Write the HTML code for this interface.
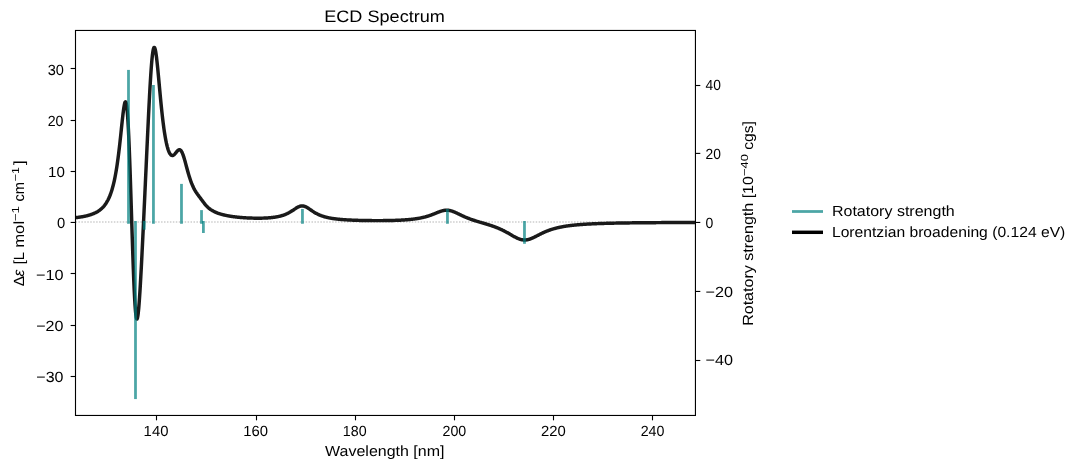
<!DOCTYPE html>
<html><head><meta charset="utf-8"><style>
html,body{margin:0;padding:0;background:#fff;width:1081px;height:468px;overflow:hidden}
svg{position:absolute;left:0;top:0;font-family:"Liberation Sans", sans-serif;will-change:transform}
text{fill:#000;text-rendering:geometricPrecision}
</style></head><body>
<svg width="1081" height="468" viewBox="0 0 1081 468">
<line x1="75.5" y1="222.0" x2="695.44" y2="222.0" stroke="#b4b4b4" stroke-width="1.11" stroke-dasharray="1.5 1.45"/>
<clipPath id="ax"><rect x="75.5" y="30.46" width="619.94" height="385.0"/></clipPath>
<polyline clip-path="url(#ax)" points="75.44,217.68 75.85,217.64 76.27,217.59 76.68,217.54 77.09,217.49 77.51,217.43 77.92,217.38 78.34,217.33 78.75,217.27 79.16,217.21 79.58,217.15 79.99,217.09 80.40,217.03 80.82,216.96 81.23,216.89 81.64,216.83 82.06,216.75 82.47,216.68 82.88,216.61 83.30,216.53 83.71,216.45 84.13,216.37 84.54,216.28 84.95,216.20 85.37,216.11 85.78,216.02 86.19,215.92 86.61,215.82 87.02,215.72 87.43,215.62 87.85,215.51 88.26,215.40 88.68,215.28 89.09,215.17 89.50,215.04 89.92,214.92 90.33,214.79 90.74,214.65 91.16,214.51 91.57,214.37 91.98,214.22 92.40,214.06 92.81,213.90 93.23,213.74 93.64,213.57 94.05,213.39 94.47,213.20 94.88,213.01 95.29,212.81 95.71,212.61 96.12,212.39 96.53,212.17 96.95,211.94 97.36,211.70 97.77,211.45 98.19,211.18 98.60,210.91 99.02,210.63 99.43,210.33 99.84,210.03 100.26,209.71 100.67,209.37 101.08,209.02 101.50,208.65 101.91,208.27 102.32,207.87 102.74,207.45 103.15,207.02 103.57,206.56 103.98,206.08 104.39,205.57 104.81,205.04 105.22,204.48 105.63,203.90 106.05,203.29 106.46,202.64 106.87,201.96 107.29,201.24 107.70,200.49 108.12,199.69 108.53,198.86 108.94,197.97 109.36,197.04 109.77,196.05 110.18,195.01 110.60,193.90 111.01,192.74 111.42,191.50 111.84,190.19 112.25,188.81 112.66,187.34 113.08,185.79 113.49,184.14 113.91,182.39 114.32,180.54 114.73,178.58 115.15,176.50 115.56,174.30 115.97,171.97 116.39,169.51 116.80,166.91 117.21,164.16 117.63,161.27 118.04,158.23 118.46,155.04 118.87,151.71 119.28,148.23 119.70,144.62 120.11,140.90 120.52,137.07 120.94,133.17 121.35,129.24 121.76,125.30 122.18,121.41 122.59,117.64 123.01,114.05 123.42,110.74 123.83,107.78 124.25,105.29 124.66,103.38 125.07,102.15 125.49,101.74 125.90,102.24 126.31,103.76 126.73,106.39 127.14,110.19 127.55,115.22 127.97,121.47 128.38,128.95 128.80,137.58 129.21,147.30 129.62,157.99 130.04,169.50 130.45,181.69 130.86,194.36 131.28,207.33 131.69,220.38 132.10,233.32 132.52,245.93 132.93,258.02 133.35,269.40 133.76,279.88 134.17,289.32 134.59,297.59 135.00,304.58 135.41,310.22 135.83,314.48 136.24,317.34 136.65,318.83 137.07,319.00 137.48,317.92 137.89,315.70 138.31,312.42 138.72,308.21 139.14,303.17 139.55,297.43 139.96,291.07 140.38,284.21 140.79,276.93 141.20,269.30 141.62,261.39 142.03,253.26 142.44,244.93 142.86,236.46 143.27,227.87 143.69,219.18 144.10,210.41 144.51,201.57 144.93,192.67 145.34,183.74 145.75,174.77 146.17,165.80 146.58,156.83 146.99,147.90 147.41,139.02 147.82,130.25 148.24,121.61 148.65,113.15 149.06,104.93 149.48,97.01 149.89,89.46 150.30,82.33 150.72,75.70 151.13,69.63 151.54,64.20 151.96,59.46 152.37,55.46 152.78,52.24 153.20,49.82 153.61,48.22 154.03,47.42 154.44,47.40 154.85,48.13 155.27,49.55 155.68,51.60 156.09,54.21 156.51,57.32 156.92,60.83 157.33,64.68 157.75,68.79 158.16,73.09 158.58,77.51 158.99,82.01 159.40,86.52 159.82,91.01 160.23,95.43 160.64,99.76 161.06,103.96 161.47,108.03 161.88,111.94 162.30,115.68 162.71,119.25 163.13,122.63 163.54,125.84 163.95,128.86 164.37,131.69 164.78,134.34 165.19,136.82 165.61,139.12 166.02,141.24 166.43,143.20 166.85,145.00 167.26,146.63 167.67,148.12 168.09,149.45 168.50,150.64 168.92,151.68 169.33,152.59 169.74,153.37 170.16,154.02 170.57,154.54 170.98,154.95 171.40,155.24 171.81,155.42 172.22,155.50 172.64,155.48 173.05,155.36 173.47,155.16 173.88,154.88 174.29,154.54 174.71,154.13 175.12,153.68 175.53,153.19 175.95,152.69 176.36,152.17 176.77,151.67 177.19,151.19 177.60,150.75 178.02,150.37 178.43,150.06 178.84,149.84 179.26,149.73 179.67,149.74 180.08,149.87 180.50,150.14 180.91,150.55 181.32,151.10 181.74,151.79 182.15,152.62 182.56,153.57 182.98,154.65 183.39,155.83 183.81,157.10 184.22,158.46 184.63,159.88 185.05,161.35 185.46,162.86 185.87,164.39 186.29,165.93 186.70,167.47 187.11,169.00 187.53,170.51 187.94,171.99 188.36,173.45 188.77,174.86 189.18,176.23 189.60,177.55 190.01,178.83 190.42,180.05 190.84,181.23 191.25,182.35 191.66,183.43 192.08,184.45 192.49,185.43 192.90,186.36 193.32,187.24 193.73,188.08 194.15,188.88 194.56,189.65 194.97,190.38 195.39,191.07 195.80,191.74 196.21,192.38 196.63,193.00 197.04,193.60 197.45,194.19 197.87,194.76 198.28,195.32 198.70,195.88 199.11,196.43 199.52,196.98 199.94,197.53 200.35,198.08 200.76,198.63 201.18,199.18 201.59,199.74 202.00,200.30 202.42,200.85 202.83,201.41 203.25,201.95 203.66,202.50 204.07,203.03 204.49,203.56 204.90,204.07 205.31,204.57 205.73,205.05 206.14,205.52 206.55,205.97 206.97,206.40 207.38,206.82 207.79,207.22 208.21,207.60 208.62,207.97 209.04,208.32 209.45,208.65 209.86,208.97 210.28,209.27 210.69,209.57 211.10,209.85 211.52,210.11 211.93,210.37 212.34,210.62 212.76,210.85 213.17,211.08 213.59,211.30 214.00,211.51 214.41,211.71 214.83,211.91 215.24,212.10 215.65,212.28 216.07,212.46 216.48,212.63 216.89,212.79 217.31,212.95 217.72,213.11 218.14,213.26 218.55,213.40 218.96,213.54 219.38,213.68 219.79,213.81 220.20,213.94 220.62,214.07 221.03,214.19 221.44,214.31 221.86,214.42 222.27,214.54 222.68,214.64 223.10,214.75 223.51,214.85 223.93,214.95 224.34,215.05 224.75,215.15 225.17,215.24 225.58,215.33 225.99,215.42 226.41,215.51 226.82,215.59 227.23,215.67 227.65,215.75 228.06,215.83 228.48,215.90 228.89,215.98 229.30,216.05 229.72,216.12 230.13,216.19 230.54,216.26 230.96,216.32 231.37,216.38 231.78,216.45 232.20,216.51 232.61,216.57 233.03,216.62 233.44,216.68 233.85,216.73 234.27,216.79 234.68,216.84 235.09,216.89 235.51,216.94 235.92,216.99 236.33,217.04 236.75,217.08 237.16,217.13 237.57,217.17 237.99,217.21 238.40,217.26 238.82,217.30 239.23,217.33 239.64,217.37 240.06,217.41 240.47,217.45 240.88,217.48 241.30,217.52 241.71,217.55 242.12,217.58 242.54,217.61 242.95,217.64 243.37,217.67 243.78,217.70 244.19,217.73 244.61,217.76 245.02,217.78 245.43,217.81 245.85,217.83 246.26,217.86 246.67,217.88 247.09,217.90 247.50,217.92 247.91,217.94 248.33,217.96 248.74,217.98 249.16,218.00 249.57,218.02 249.98,218.03 250.40,218.05 250.81,218.07 251.22,218.08 251.64,218.09 252.05,218.10 252.46,218.12 252.88,218.13 253.29,218.14 253.71,218.15 254.12,218.15 254.53,218.16 254.95,218.17 255.36,218.17 255.77,218.18 256.19,218.18 256.60,218.19 257.01,218.19 257.43,218.19 257.84,218.19 258.26,218.19 258.67,218.19 259.08,218.19 259.50,218.18 259.91,218.18 260.32,218.18 260.74,218.17 261.15,218.16 261.56,218.15 261.98,218.15 262.39,218.14 262.80,218.12 263.22,218.11 263.63,218.10 264.05,218.08 264.46,218.07 264.87,218.05 265.29,218.03 265.70,218.01 266.11,217.99 266.53,217.97 266.94,217.95 267.35,217.92 267.77,217.90 268.18,217.87 268.60,217.84 269.01,217.81 269.42,217.77 269.84,217.74 270.25,217.70 270.66,217.67 271.08,217.63 271.49,217.58 271.90,217.54 272.32,217.49 272.73,217.45 273.15,217.39 273.56,217.34 273.97,217.29 274.39,217.23 274.80,217.17 275.21,217.11 275.63,217.04 276.04,216.97 276.45,216.90 276.87,216.83 277.28,216.75 277.69,216.67 278.11,216.59 278.52,216.50 278.94,216.41 279.35,216.32 279.76,216.22 280.18,216.11 280.59,216.01 281.00,215.90 281.42,215.78 281.83,215.66 282.24,215.54 282.66,215.41 283.07,215.27 283.49,215.13 283.90,214.99 284.31,214.83 284.73,214.68 285.14,214.52 285.55,214.35 285.97,214.17 286.38,213.99 286.79,213.80 287.21,213.61 287.62,213.41 288.04,213.20 288.45,212.99 288.86,212.77 289.28,212.55 289.69,212.31 290.10,212.08 290.52,211.83 290.93,211.58 291.34,211.32 291.76,211.06 292.17,210.80 292.58,210.53 293.00,210.26 293.41,209.98 293.83,209.71 294.24,209.43 294.65,209.15 295.07,208.88 295.48,208.60 295.89,208.34 296.31,208.07 296.72,207.82 297.13,207.57 297.55,207.34 297.96,207.12 298.38,206.91 298.79,206.72 299.20,206.54 299.62,206.39 300.03,206.25 300.44,206.14 300.86,206.05 301.27,205.99 301.68,205.94 302.10,205.93 302.51,205.94 302.92,205.97 303.34,206.03 303.75,206.11 304.17,206.22 304.58,206.35 304.99,206.50 305.41,206.67 305.82,206.86 306.23,207.06 306.65,207.28 307.06,207.52 307.47,207.76 307.89,208.02 308.30,208.29 308.72,208.56 309.13,208.84 309.54,209.12 309.96,209.40 310.37,209.69 310.78,209.97 311.20,210.26 311.61,210.54 312.02,210.82 312.44,211.10 312.85,211.37 313.27,211.64 313.68,211.90 314.09,212.16 314.51,212.41 314.92,212.66 315.33,212.90 315.75,213.14 316.16,213.37 316.57,213.59 316.99,213.81 317.40,214.02 317.81,214.22 318.23,214.42 318.64,214.61 319.06,214.80 319.47,214.98 319.88,215.15 320.30,215.32 320.71,215.48 321.12,215.64 321.54,215.79 321.95,215.94 322.36,216.08 322.78,216.22 323.19,216.36 323.61,216.48 324.02,216.61 324.43,216.73 324.85,216.85 325.26,216.96 325.67,217.07 326.09,217.18 326.50,217.28 326.91,217.38 327.33,217.48 327.74,217.57 328.16,217.66 328.57,217.75 328.98,217.83 329.40,217.91 329.81,217.99 330.22,218.07 330.64,218.14 331.05,218.22 331.46,218.29 331.88,218.35 332.29,218.42 332.70,218.48 333.12,218.55 333.53,218.61 333.95,218.67 334.36,218.72 334.77,218.78 335.19,218.83 335.60,218.88 336.01,218.93 336.43,218.98 336.84,219.03 337.25,219.08 337.67,219.12 338.08,219.17 338.50,219.21 338.91,219.25 339.32,219.29 339.74,219.33 340.15,219.37 340.56,219.41 340.98,219.44 341.39,219.48 341.80,219.51 342.22,219.54 342.63,219.58 343.05,219.61 343.46,219.64 343.87,219.67 344.29,219.70 344.70,219.73 345.11,219.76 345.53,219.78 345.94,219.81 346.35,219.84 346.77,219.86 347.18,219.89 347.59,219.91 348.01,219.93 348.42,219.96 348.84,219.98 349.25,220.00 349.66,220.02 350.08,220.04 350.49,220.06 350.90,220.08 351.32,220.10 351.73,220.12 352.14,220.14 352.56,220.15 352.97,220.17 353.39,220.19 353.80,220.21 354.21,220.22 354.63,220.24 355.04,220.25 355.45,220.27 355.87,220.28 356.28,220.30 356.69,220.31 357.11,220.32 357.52,220.34 357.93,220.35 358.35,220.36 358.76,220.37 359.18,220.38 359.59,220.40 360.00,220.41 360.42,220.42 360.83,220.43 361.24,220.44 361.66,220.45 362.07,220.46 362.48,220.47 362.90,220.48 363.31,220.48 363.73,220.49 364.14,220.50 364.55,220.51 364.97,220.52 365.38,220.52 365.79,220.53 366.21,220.54 366.62,220.54 367.03,220.55 367.45,220.56 367.86,220.56 368.28,220.57 368.69,220.57 369.10,220.58 369.52,220.58 369.93,220.59 370.34,220.59 370.76,220.60 371.17,220.60 371.58,220.60 372.00,220.61 372.41,220.61 372.82,220.61 373.24,220.61 373.65,220.62 374.07,220.62 374.48,220.62 374.89,220.62 375.31,220.62 375.72,220.63 376.13,220.63 376.55,220.63 376.96,220.63 377.37,220.63 377.79,220.63 378.20,220.63 378.62,220.63 379.03,220.63 379.44,220.63 379.86,220.62 380.27,220.62 380.68,220.62 381.10,220.62 381.51,220.62 381.92,220.61 382.34,220.61 382.75,220.61 383.17,220.60 383.58,220.60 383.99,220.60 384.41,220.59 384.82,220.59 385.23,220.58 385.65,220.58 386.06,220.57 386.47,220.57 386.89,220.56 387.30,220.56 387.71,220.55 388.13,220.54 388.54,220.53 388.96,220.53 389.37,220.52 389.78,220.51 390.20,220.50 390.61,220.49 391.02,220.48 391.44,220.47 391.85,220.46 392.26,220.45 392.68,220.44 393.09,220.43 393.51,220.42 393.92,220.41 394.33,220.39 394.75,220.38 395.16,220.37 395.57,220.35 395.99,220.34 396.40,220.32 396.81,220.31 397.23,220.29 397.64,220.28 398.06,220.26 398.47,220.24 398.88,220.22 399.30,220.20 399.71,220.19 400.12,220.17 400.54,220.15 400.95,220.12 401.36,220.10 401.78,220.08 402.19,220.06 402.60,220.03 403.02,220.01 403.43,219.98 403.85,219.96 404.26,219.93 404.67,219.90 405.09,219.88 405.50,219.85 405.91,219.82 406.33,219.79 406.74,219.75 407.15,219.72 407.57,219.69 407.98,219.65 408.40,219.62 408.81,219.58 409.22,219.54 409.64,219.51 410.05,219.47 410.46,219.42 410.88,219.38 411.29,219.34 411.70,219.29 412.12,219.25 412.53,219.20 412.95,219.15 413.36,219.10 413.77,219.05 414.19,219.00 414.60,218.94 415.01,218.89 415.43,218.83 415.84,218.77 416.25,218.71 416.67,218.65 417.08,218.58 417.49,218.52 417.91,218.45 418.32,218.38 418.74,218.31 419.15,218.23 419.56,218.16 419.98,218.08 420.39,218.00 420.80,217.92 421.22,217.83 421.63,217.74 422.04,217.66 422.46,217.56 422.87,217.47 423.29,217.37 423.70,217.27 424.11,217.17 424.53,217.06 424.94,216.96 425.35,216.85 425.77,216.73 426.18,216.62 426.59,216.50 427.01,216.38 427.42,216.25 427.83,216.13 428.25,216.00 428.66,215.86 429.08,215.73 429.49,215.59 429.90,215.45 430.32,215.30 430.73,215.16 431.14,215.01 431.56,214.85 431.97,214.70 432.38,214.54 432.80,214.38 433.21,214.22 433.63,214.06 434.04,213.90 434.45,213.73 434.87,213.56 435.28,213.40 435.69,213.23 436.11,213.06 436.52,212.89 436.93,212.73 437.35,212.56 437.76,212.40 438.18,212.23 438.59,212.07 439.00,211.92 439.42,211.76 439.83,211.61 440.24,211.47 440.66,211.33 441.07,211.19 441.48,211.07 441.90,210.95 442.31,210.83 442.72,210.73 443.14,210.63 443.55,210.54 443.97,210.46 444.38,210.39 444.79,210.33 445.21,210.29 445.62,210.25 446.03,210.23 446.45,210.21 446.86,210.21 447.27,210.22 447.69,210.24 448.10,210.27 448.52,210.32 448.93,210.38 449.34,210.44 449.76,210.52 450.17,210.61 450.58,210.71 451.00,210.82 451.41,210.94 451.82,211.07 452.24,211.20 452.65,211.35 453.07,211.50 453.48,211.66 453.89,211.82 454.31,211.99 454.72,212.17 455.13,212.35 455.55,212.53 455.96,212.72 456.37,212.91 456.79,213.11 457.20,213.30 457.61,213.50 458.03,213.70 458.44,213.90 458.86,214.10 459.27,214.30 459.68,214.50 460.10,214.69 460.51,214.89 460.92,215.09 461.34,215.29 461.75,215.48 462.16,215.68 462.58,215.87 462.99,216.06 463.41,216.25 463.82,216.43 464.23,216.62 464.65,216.80 465.06,216.98 465.47,217.16 465.89,217.33 466.30,217.50 466.71,217.67 467.13,217.84 467.54,218.01 467.96,218.17 468.37,218.33 468.78,218.49 469.20,218.65 469.61,218.80 470.02,218.96 470.44,219.11 470.85,219.26 471.26,219.41 471.68,219.55 472.09,219.69 472.50,219.84 472.92,219.98 473.33,220.11 473.75,220.25 474.16,220.39 474.57,220.52 474.99,220.65 475.40,220.79 475.81,220.92 476.23,221.05 476.64,221.18 477.05,221.30 477.47,221.43 477.88,221.56 478.30,221.68 478.71,221.81 479.12,221.93 479.54,222.05 479.95,222.18 480.36,222.30 480.78,222.42 481.19,222.54 481.60,222.66 482.02,222.79 482.43,222.91 482.84,223.03 483.26,223.15 483.67,223.27 484.09,223.40 484.50,223.52 484.91,223.64 485.33,223.77 485.74,223.89 486.15,224.01 486.57,224.14 486.98,224.27 487.39,224.39 487.81,224.52 488.22,224.65 488.64,224.78 489.05,224.91 489.46,225.04 489.88,225.17 490.29,225.31 490.70,225.44 491.12,225.58 491.53,225.72 491.94,225.86 492.36,226.00 492.77,226.14 493.19,226.29 493.60,226.44 494.01,226.58 494.43,226.74 494.84,226.89 495.25,227.04 495.67,227.20 496.08,227.36 496.49,227.52 496.91,227.68 497.32,227.85 497.73,228.02 498.15,228.19 498.56,228.36 498.98,228.54 499.39,228.72 499.80,228.90 500.22,229.08 500.63,229.27 501.04,229.46 501.46,229.65 501.87,229.85 502.28,230.05 502.70,230.25 503.11,230.45 503.53,230.66 503.94,230.86 504.35,231.08 504.77,231.29 505.18,231.51 505.59,231.73 506.01,231.95 506.42,232.17 506.83,232.40 507.25,232.63 507.66,232.86 508.08,233.09 508.49,233.33 508.90,233.56 509.32,233.80 509.73,234.04 510.14,234.28 510.56,234.51 510.97,234.75 511.38,234.99 511.80,235.23 512.21,235.47 512.62,235.71 513.04,235.94 513.45,236.18 513.87,236.41 514.28,236.64 514.69,236.86 515.11,237.08 515.52,237.30 515.93,237.51 516.35,237.72 516.76,237.92 517.17,238.12 517.59,238.30 518.00,238.48 518.42,238.66 518.83,238.82 519.24,238.97 519.66,239.12 520.07,239.26 520.48,239.38 520.90,239.50 521.31,239.60 521.72,239.69 522.14,239.77 522.55,239.84 522.97,239.90 523.38,239.94 523.79,239.97 524.21,239.99 524.62,240.00 525.03,239.99 525.45,239.97 525.86,239.94 526.27,239.90 526.69,239.84 527.10,239.77 527.51,239.70 527.93,239.61 528.34,239.51 528.76,239.40 529.17,239.28 529.58,239.15 530.00,239.01 530.41,238.86 530.82,238.71 531.24,238.55 531.65,238.38 532.06,238.20 532.48,238.02 532.89,237.83 533.31,237.64 533.72,237.45 534.13,237.25 534.55,237.04 534.96,236.84 535.37,236.63 535.79,236.42 536.20,236.21 536.61,236.00 537.03,235.79 537.44,235.57 537.85,235.36 538.27,235.14 538.68,234.93 539.10,234.72 539.51,234.51 539.92,234.30 540.34,234.09 540.75,233.89 541.16,233.68 541.58,233.48 541.99,233.28 542.40,233.08 542.82,232.88 543.23,232.69 543.65,232.50 544.06,232.31 544.47,232.13 544.89,231.95 545.30,231.77 545.71,231.59 546.13,231.42 546.54,231.25 546.95,231.08 547.37,230.92 547.78,230.76 548.20,230.60 548.61,230.44 549.02,230.29 549.44,230.14 549.85,230.00 550.26,229.85 550.68,229.71 551.09,229.57 551.50,229.44 551.92,229.31 552.33,229.18 552.74,229.05 553.16,228.93 553.57,228.81 553.99,228.69 554.40,228.57 554.81,228.46 555.23,228.34 555.64,228.24 556.05,228.13 556.47,228.02 556.88,227.92 557.29,227.82 557.71,227.72 558.12,227.63 558.54,227.53 558.95,227.44 559.36,227.35 559.78,227.26 560.19,227.18 560.60,227.09 561.02,227.01 561.43,226.93 561.84,226.85 562.26,226.77 562.67,226.70 563.09,226.62 563.50,226.55 563.91,226.48 564.33,226.41 564.74,226.34 565.15,226.28 565.57,226.21 565.98,226.15 566.39,226.08 566.81,226.02 567.22,225.96 567.63,225.90 568.05,225.85 568.46,225.79 568.88,225.73 569.29,225.68 569.70,225.63 570.12,225.57 570.53,225.52 570.94,225.47 571.36,225.42 571.77,225.38 572.18,225.33 572.60,225.28 573.01,225.24 573.43,225.19 573.84,225.15 574.25,225.11 574.67,225.07 575.08,225.03 575.49,224.98 575.91,224.95 576.32,224.91 576.73,224.87 577.15,224.83 577.56,224.80 577.98,224.76 578.39,224.72 578.80,224.69 579.22,224.66 579.63,224.62 580.04,224.59 580.46,224.56 580.87,224.53 581.28,224.50 581.70,224.47 582.11,224.44 582.52,224.41 582.94,224.38 583.35,224.35 583.77,224.32 584.18,224.29 584.59,224.27 585.01,224.24 585.42,224.22 585.83,224.19 586.25,224.17 586.66,224.14 587.07,224.12 587.49,224.09 587.90,224.07 588.32,224.05 588.73,224.02 589.14,224.00 589.56,223.98 589.97,223.96 590.38,223.94 590.80,223.92 591.21,223.90 591.62,223.88 592.04,223.86 592.45,223.84 592.86,223.82 593.28,223.80 593.69,223.78 594.11,223.76 594.52,223.75 594.93,223.73 595.35,223.71 595.76,223.69 596.17,223.68 596.59,223.66 597.00,223.64 597.41,223.63 597.83,223.61 598.24,223.60 598.66,223.58 599.07,223.57 599.48,223.55 599.90,223.54 600.31,223.52 600.72,223.51 601.14,223.50 601.55,223.48 601.96,223.47 602.38,223.46 602.79,223.44 603.21,223.43 603.62,223.42 604.03,223.40 604.45,223.39 604.86,223.38 605.27,223.37 605.69,223.36 606.10,223.34 606.51,223.33 606.93,223.32 607.34,223.31 607.75,223.30 608.17,223.29 608.58,223.28 609.00,223.27 609.41,223.26 609.82,223.25 610.24,223.24 610.65,223.23 611.06,223.22 611.48,223.21 611.89,223.20 612.30,223.19 612.72,223.18 613.13,223.17 613.55,223.16 613.96,223.15 614.37,223.14 614.79,223.13 615.20,223.13 615.61,223.12 616.03,223.11 616.44,223.10 616.85,223.09 617.27,223.08 617.68,223.08 618.10,223.07 618.51,223.06 618.92,223.05 619.34,223.05 619.75,223.04 620.16,223.03 620.58,223.02 620.99,223.02 621.40,223.01 621.82,223.00 622.23,223.00 622.64,222.99 623.06,222.98 623.47,222.98 623.89,222.97 624.30,222.96 624.71,222.96 625.13,222.95 625.54,222.94 625.95,222.94 626.37,222.93 626.78,222.93 627.19,222.92 627.61,222.91 628.02,222.91 628.44,222.90 628.85,222.90 629.26,222.89 629.68,222.89 630.09,222.88 630.50,222.88 630.92,222.87 631.33,222.86 631.74,222.86 632.16,222.85 632.57,222.85 632.99,222.84 633.40,222.84 633.81,222.83 634.23,222.83 634.64,222.82 635.05,222.82 635.47,222.82 635.88,222.81 636.29,222.81 636.71,222.80 637.12,222.80 637.53,222.79 637.95,222.79 638.36,222.78 638.78,222.78 639.19,222.78 639.60,222.77 640.02,222.77 640.43,222.76 640.84,222.76 641.26,222.76 641.67,222.75 642.08,222.75 642.50,222.74 642.91,222.74 643.33,222.74 643.74,222.73 644.15,222.73 644.57,222.73 644.98,222.72 645.39,222.72 645.81,222.71 646.22,222.71 646.63,222.71 647.05,222.70 647.46,222.70 647.87,222.70 648.29,222.69 648.70,222.69 649.12,222.69 649.53,222.68 649.94,222.68 650.36,222.68 650.77,222.68 651.18,222.67 651.60,222.67 652.01,222.67 652.42,222.66 652.84,222.66 653.25,222.66 653.67,222.65 654.08,222.65 654.49,222.65 654.91,222.65 655.32,222.64 655.73,222.64 656.15,222.64 656.56,222.63 656.97,222.63 657.39,222.63 657.80,222.63 658.22,222.62 658.63,222.62 659.04,222.62 659.46,222.62 659.87,222.61 660.28,222.61 660.70,222.61 661.11,222.61 661.52,222.60 661.94,222.60 662.35,222.60 662.76,222.60 663.18,222.60 663.59,222.59 664.01,222.59 664.42,222.59 664.83,222.59 665.25,222.58 665.66,222.58 666.07,222.58 666.49,222.58 666.90,222.58 667.31,222.57 667.73,222.57 668.14,222.57 668.56,222.57 668.97,222.57 669.38,222.56 669.80,222.56 670.21,222.56 670.62,222.56 671.04,222.56 671.45,222.55 671.86,222.55 672.28,222.55 672.69,222.55 673.11,222.55 673.52,222.54 673.93,222.54 674.35,222.54 674.76,222.54 675.17,222.54 675.59,222.54 676.00,222.53 676.41,222.53 676.83,222.53 677.24,222.53 677.65,222.53 678.07,222.53 678.48,222.52 678.90,222.52 679.31,222.52 679.72,222.52 680.14,222.52 680.55,222.52 680.96,222.51 681.38,222.51 681.79,222.51 682.20,222.51 682.62,222.51 683.03,222.51 683.45,222.51 683.86,222.50 684.27,222.50 684.69,222.50 685.10,222.50 685.51,222.50 685.93,222.50 686.34,222.50 686.75,222.49 687.17,222.49 687.58,222.49 688.00,222.49 688.41,222.49 688.82,222.49 689.24,222.49 689.65,222.49 690.06,222.48 690.48,222.48 690.89,222.48 691.30,222.48 691.72,222.48 692.13,222.48 692.54,222.48 692.96,222.48 693.37,222.47 693.79,222.47 694.20,222.47 694.61,222.47 695.03,222.47 695.44,222.47" fill="none" stroke="#1a1a1a" stroke-width="3.47" stroke-linejoin="round" stroke-linecap="square"/>
<line x1="128.49" y1="222.40" x2="128.49" y2="71.29" stroke="#008080" stroke-opacity="0.7" stroke-width="2.78" stroke-linecap="square"/>
<line x1="135.49" y1="222.40" x2="135.49" y2="397.68" stroke="#008080" stroke-opacity="0.7" stroke-width="2.78" stroke-linecap="square"/>
<line x1="144.28" y1="222.40" x2="144.28" y2="228.31" stroke="#008080" stroke-opacity="0.7" stroke-width="2.78" stroke-linecap="square"/>
<line x1="153.44" y1="222.40" x2="153.44" y2="86.38" stroke="#008080" stroke-opacity="0.7" stroke-width="2.78" stroke-linecap="square"/>
<line x1="181.48" y1="222.40" x2="181.48" y2="185.28" stroke="#008080" stroke-opacity="0.7" stroke-width="2.78" stroke-linecap="square"/>
<line x1="201.52" y1="222.40" x2="201.52" y2="211.50" stroke="#008080" stroke-opacity="0.7" stroke-width="2.78" stroke-linecap="square"/>
<line x1="203.39" y1="222.40" x2="203.39" y2="231.61" stroke="#008080" stroke-opacity="0.7" stroke-width="2.78" stroke-linecap="square"/>
<line x1="302.44" y1="222.40" x2="302.44" y2="210.30" stroke="#008080" stroke-opacity="0.7" stroke-width="2.78" stroke-linecap="square"/>
<line x1="447.44" y1="222.40" x2="447.44" y2="210.51" stroke="#008080" stroke-opacity="0.7" stroke-width="2.78" stroke-linecap="square"/>
<line x1="524.47" y1="222.40" x2="524.47" y2="242.41" stroke="#008080" stroke-opacity="0.7" stroke-width="2.78" stroke-linecap="square"/>
<rect x="75.5" y="30.46" width="619.94" height="385.0" fill="none" stroke="#000" stroke-width="1.11"/>
<line x1="156.50" y1="415.46" x2="156.50" y2="420.32" stroke="#000" stroke-width="1.11"/>
<line x1="256.50" y1="415.46" x2="256.50" y2="420.32" stroke="#000" stroke-width="1.11"/>
<line x1="355.50" y1="415.46" x2="355.50" y2="420.32" stroke="#000" stroke-width="1.11"/>
<line x1="454.50" y1="415.46" x2="454.50" y2="420.32" stroke="#000" stroke-width="1.11"/>
<line x1="553.50" y1="415.46" x2="553.50" y2="420.32" stroke="#000" stroke-width="1.11"/>
<line x1="652.50" y1="415.46" x2="652.50" y2="420.32" stroke="#000" stroke-width="1.11"/>
<line x1="70.64" y1="68.50" x2="75.5" y2="68.50" stroke="#000" stroke-width="1.11"/>
<line x1="70.64" y1="120.50" x2="75.5" y2="120.50" stroke="#000" stroke-width="1.11"/>
<line x1="70.64" y1="171.50" x2="75.5" y2="171.50" stroke="#000" stroke-width="1.11"/>
<line x1="70.64" y1="222.45" x2="75.5" y2="222.45" stroke="#000" stroke-width="1.11"/>
<line x1="70.64" y1="273.50" x2="75.5" y2="273.50" stroke="#000" stroke-width="1.11"/>
<line x1="70.64" y1="325.50" x2="75.5" y2="325.50" stroke="#000" stroke-width="1.11"/>
<line x1="70.64" y1="376.50" x2="75.5" y2="376.50" stroke="#000" stroke-width="1.11"/>
<line x1="695.44" y1="85.50" x2="700.3000000000001" y2="85.50" stroke="#000" stroke-width="1.11"/>
<line x1="695.44" y1="153.40" x2="700.3000000000001" y2="153.40" stroke="#000" stroke-width="1.11"/>
<line x1="695.44" y1="222.45" x2="700.3000000000001" y2="222.45" stroke="#000" stroke-width="1.11"/>
<line x1="695.44" y1="291.45" x2="700.3000000000001" y2="291.45" stroke="#000" stroke-width="1.11"/>
<line x1="695.44" y1="360.50" x2="700.3000000000001" y2="360.50" stroke="#000" stroke-width="1.11"/>
<text x="47.70" y="75.00" font-size="14.72" textLength="16.18" lengthAdjust="spacingAndGlyphs">30</text>
<text x="47.70" y="125.64" font-size="14.72" textLength="15.77" lengthAdjust="spacingAndGlyphs">20</text>
<text x="47.99" y="176.90" font-size="14.72" textLength="16.81" lengthAdjust="spacingAndGlyphs">10</text>
<text x="57.12" y="227.80" font-size="14.72" textLength="8.22" lengthAdjust="spacingAndGlyphs">0</text>
<text x="36.04" y="279.90" font-size="14.72" textLength="27.57" lengthAdjust="spacingAndGlyphs">−10</text>
<text x="36.20" y="330.98" font-size="14.72" textLength="27.26" lengthAdjust="spacingAndGlyphs">−20</text>
<text x="36.36" y="381.80" font-size="14.72" textLength="27.16" lengthAdjust="spacingAndGlyphs">−30</text>
<text x="705.52" y="90.40" font-size="14.72" textLength="15.37" lengthAdjust="spacingAndGlyphs">40</text>
<text x="705.52" y="159.15" font-size="14.72" textLength="15.37" lengthAdjust="spacingAndGlyphs">20</text>
<text x="705.42" y="227.90" font-size="14.72" textLength="7.79" lengthAdjust="spacingAndGlyphs">0</text>
<text x="705.53" y="296.65" font-size="14.72" textLength="27.47" lengthAdjust="spacingAndGlyphs">−20</text>
<text x="705.53" y="365.40" font-size="14.72" textLength="27.47" lengthAdjust="spacingAndGlyphs">−40</text>
<text x="143.63" y="435.90" font-size="14.72" textLength="24.78" lengthAdjust="spacingAndGlyphs">140</text>
<text x="243.28" y="435.90" font-size="14.72" textLength="24.78" lengthAdjust="spacingAndGlyphs">160</text>
<text x="342.87" y="435.90" font-size="14.72" textLength="23.75" lengthAdjust="spacingAndGlyphs">180</text>
<text x="442.47" y="435.90" font-size="14.72" textLength="23.75" lengthAdjust="spacingAndGlyphs">200</text>
<text x="541.07" y="435.90" font-size="14.72" textLength="24.78" lengthAdjust="spacingAndGlyphs">220</text>
<text x="640.66" y="435.90" font-size="14.72" textLength="23.75" lengthAdjust="spacingAndGlyphs">240</text>
<text x="324.22" y="21.80" font-size="16.67" textLength="120.66" lengthAdjust="spacingAndGlyphs">ECD Spectrum</text>
<text x="325.07" y="456.00" font-size="14.72" textLength="119.39" lengthAdjust="spacingAndGlyphs">Wavelength [nm]</text>
<text x="831.91" y="216.00" font-size="14.72" textLength="122.87" lengthAdjust="spacingAndGlyphs">Rotatory strength</text>
<text x="831.94" y="236.80" font-size="14.72" textLength="233.40" lengthAdjust="spacingAndGlyphs">Lorentzian broadening (0.124 eV)</text>
<text transform="translate(24.20,286.19) rotate(-90)" x="0" y="0" font-size="14.72" textLength="10.35" lengthAdjust="spacingAndGlyphs">Δ</text>
<text transform="translate(24.20,276.50) rotate(-90)" x="0" y="0" font-size="15.5"><tspan font-style="italic">ε</tspan></text>
<text transform="translate(24.20,264.29) rotate(-90)" x="0" y="0" font-size="14.72" textLength="12.41" lengthAdjust="spacingAndGlyphs">[L</text>
<text transform="translate(24.20,247.82) rotate(-90)" x="0" y="0" font-size="14.72" textLength="26.95" lengthAdjust="spacingAndGlyphs">mol</text>
<text transform="translate(18.60,221.35) rotate(-90)" x="0" y="0" font-size="10.3" textLength="15.30" lengthAdjust="spacingAndGlyphs">−1</text>
<text transform="translate(24.20,201.42) rotate(-90)" x="0" y="0" font-size="14.72" textLength="19.43" lengthAdjust="spacingAndGlyphs">cm</text>
<text transform="translate(18.60,181.25) rotate(-90)" x="0" y="0" font-size="10.3" textLength="14.12" lengthAdjust="spacingAndGlyphs">−1</text>
<text transform="translate(24.20,165.33) rotate(-90)" x="0" y="0" font-size="14.72" textLength="5.06" lengthAdjust="spacingAndGlyphs">]</text>
<text transform="translate(753.10,325.85) rotate(-90)" x="0" y="0" font-size="14.72" textLength="149.78" lengthAdjust="spacingAndGlyphs">Rotatory strength [10</text>
<text transform="translate(747.80,175.96) rotate(-90)" x="0" y="0" font-size="10.3" textLength="21.80" lengthAdjust="spacingAndGlyphs">−40</text>
<text transform="translate(753.10,149.83) rotate(-90)" x="0" y="0" font-size="14.72" textLength="28.66" lengthAdjust="spacingAndGlyphs">cgs]</text>
<line x1="792" y1="211.5" x2="823" y2="211.5" stroke="#008080" stroke-opacity="0.7" stroke-width="2.78"/>
<line x1="792" y1="232.3" x2="823" y2="232.3" stroke="#000" stroke-width="3.47"/>
</svg>
</body></html>
